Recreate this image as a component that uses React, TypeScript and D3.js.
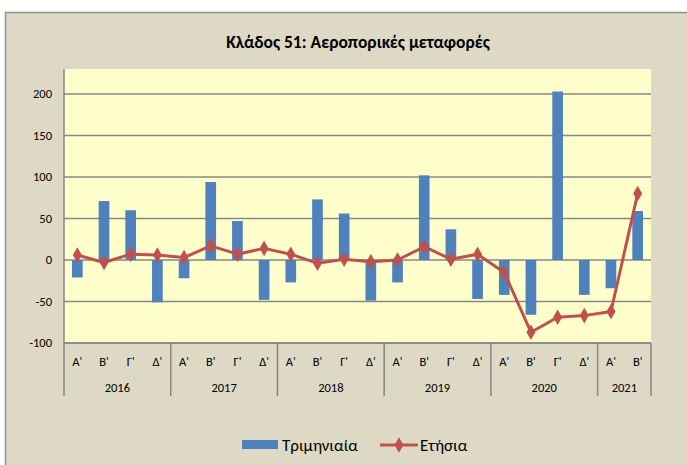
import React from 'react';
import * as d3 from 'd3';

const title = 'Κλάδος 51: Αεροπορικές μεταφορές';
const years = ['2016', '2017', '2018', '2019', '2020', '2021'];
const quartersPerYear = [4, 4, 4, 4, 4, 2];
const quarterNames = ["Α'", "Β'", "Γ'", "Δ'"];
const quarterly = [-21, 71, 60, -51, -22, 94, 47, -48, -27, 73, 56, -49, -27, 102, 37, -47, -42, -66, 203, -42, -34, 59];
const annual = [6, -3, 7, 6, 3, 17, 7, 14, 7, -4, 1, -2, 0, 16, 1, 7, -15, -87, -69, -67, -62, 80];
const yTicks = [-100, -50, 0, 50, 100, 150, 200];
const seriesNames = ['Τριμηνιαία', 'Ετήσια'];

const font = "Carlito, 'Liberation Sans Narrow', 'DejaVu Sans Condensed', sans-serif";

export default function App() {
  const W = 687;
  const H = 465;
  const plot = { left: 64, right: 651, top: 69, bottom: 343 };

  // flatten categories
  const cats: { key: string; q: string; year: string }[] = [];
  years.forEach((y, i) => {
    for (let k = 0; k < quartersPerYear[i]; k++) cats.push({ key: `${y}-${k}`, q: quarterNames[k], year: y });
  });

  const x = d3.scaleBand().domain(cats.map((c) => c.key)).range([plot.left, plot.right]).paddingInner(0.6).paddingOuter(0.3);
  const xs = d3.scaleBand().domain(cats.map((c) => c.key)).range([plot.left, plot.right]);
  const y = d3.scaleLinear().domain([-100, 200]).range([plot.bottom, 94]);

  const line = d3
    .line<number>()
    .x((_, i) => xs(cats[i].key)! + xs.bandwidth() / 2)
    .y((d) => y(d));

  // year boundaries
  let acc = 0;
  const yearSpans = years.map((yr, i) => {
    const start = acc;
    acc += quartersPerYear[i];
    return { yr, x0: xs(cats[start].key)!, x1: xs(cats[acc - 1].key)! + xs.bandwidth() };
  });

  const diamond = d3.symbol(d3.symbolDiamond, 70)()!;

  return (
    <svg width={W} height={H} style={{ position: 'fixed', left: 0, top: 0 }} fontFamily={font}>
      <rect x={0} y={0} width={W} height={H} fill="#fff" />
      <rect x={5.5} y={12.5} width={720} height={500} fill="#DDD9C4" stroke="#8E8E8E" strokeWidth={1.5} />
      <text x={358} y={48} textAnchor="middle" fontSize={17.5} fontWeight="bold" fill="#000">
        {title}
      </text>

      <rect x={plot.left} y={plot.top} width={plot.right - plot.left} height={plot.bottom - plot.top} fill="#FFFFCC" />

      {yTicks.map((t) => (
        <g key={t}>
          <line x1={plot.left} x2={plot.right} y1={y(t)} y2={y(t)} stroke="#878787" strokeWidth={1.5} />
          <text x={52} y={y(t)} dy="0.35em" textAnchor="end" fontSize={12.5} fill="#000">
            {t}
          </text>
        </g>
      ))}
      <line x1={plot.left} x2={plot.left} y1={plot.top} y2={plot.bottom} stroke="#878787" strokeWidth={1.5} />

      {quarterly.map((v, i) => (
        <rect
          key={i}
          x={x(cats[i].key)}
          width={x.bandwidth()}
          y={Math.min(y(v), y(0))}
          height={Math.abs(y(v) - y(0))}
          fill="#4F81BD"
        />
      ))}

      <path d={line(annual)!} fill="none" stroke="#C0504D" strokeWidth={3} strokeLinejoin="round" />
      {annual.map((v, i) => (
        <path key={i} d={diamond} transform={`translate(${xs(cats[i].key)! + xs.bandwidth() / 2},${y(v)})`} fill="#C0504D" />
      ))}

      {/* category axis */}
      <line x1={plot.left} x2={plot.right} y1={plot.bottom} y2={plot.bottom} stroke="#878787" strokeWidth={1.5} />
      {cats.map((c) => (
        <text key={c.key} x={xs(c.key)! + xs.bandwidth() / 2} y={366} textAnchor="middle" fontSize={12.5} fill="#000">
          {c.q}
        </text>
      ))}
      {yearSpans.map((s) => (
        <g key={s.yr}>
          <line x1={s.x0} x2={s.x0} y1={plot.bottom} y2={396} stroke="#878787" strokeWidth={1.5} />
          <text x={(s.x0 + s.x1) / 2} y={392} textAnchor="middle" fontSize={12.5} fill="#000">
            {s.yr}
          </text>
        </g>
      ))}
      <line x1={plot.right} x2={plot.right} y1={plot.bottom} y2={396} stroke="#878787" strokeWidth={1.5} />

      {/* legend */}
      <rect x={242} y={440} width={36} height={9} fill="#4F81BD" />
      <text x={282} y={451} fontSize={17} fill="#000">
        {seriesNames[0]}
      </text>
      <line x1={380} x2={418} y1={445} y2={445} stroke="#C0504D" strokeWidth={3} />
      <path d={diamond} transform="translate(399,445)" fill="#C0504D" />
      <text x={420} y={451} fontSize={17} fill="#000">
        {seriesNames[1]}
      </text>
    </svg>
  );
}
